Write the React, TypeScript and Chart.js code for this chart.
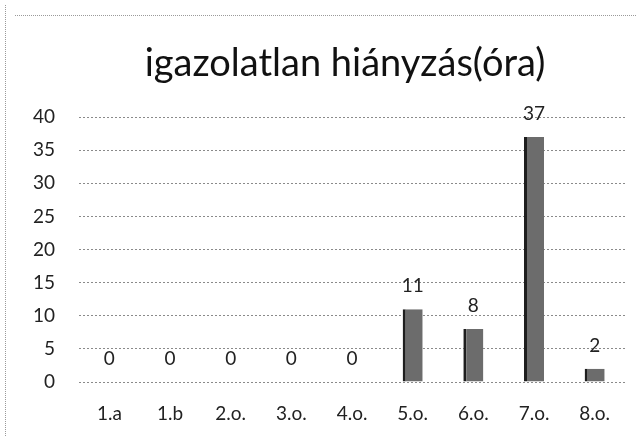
import React, { useEffect, useRef } from "react";
import { Chart, registerables } from "chart.js";

Chart.register(...registerables);

const categories = ["1.a", "1.b", "2.o.", "3.o.", "4.o.", "5.o.", "6.o.", "7.o.", "8.o."];
const values = [0, 0, 0, 0, 0, 11, 8, 37, 2];
const titleText = "igazolatlan hiányzás(óra)";
const FONT = "Lato, 'Open Sans', sans-serif";

const labelPlugin = {
  id: "valueLabels",
  afterDatasetsDraw(chart: any) {
    const ctx = chart.ctx;
    const meta = chart.getDatasetMeta(0);
    ctx.save();
    ctx.font = `19px ${FONT}`;
    ctx.fillStyle = "#222";
    ctx.textAlign = "center";
    ctx.textBaseline = "alphabetic";
    meta.data.forEach((el: any, i: number) => {
      ctx.fillText(String(values[i]), el.x, el.y - 17);
    });
    ctx.restore();
  },
};

const titlePlugin = {
  id: "customTitle",
  afterDraw(chart: any) {
    const ctx = chart.ctx;
    ctx.save();
    ctx.font = `38px ${FONT}`;
    ctx.fillStyle = "#111";
    ctx.textAlign = "center";
    ctx.textBaseline = "middle";
    ctx.fillText(titleText, 345, 64);
    ctx.restore();
  },
};

const borderPlugin = {
  id: "scanBorder",
  beforeDraw(chart: any) {
    const ctx = chart.ctx;
    ctx.save();
    ctx.fillStyle = "#fff";
    ctx.fillRect(0, 0, chart.width, chart.height);
    ctx.strokeStyle = "#9a9a9a";
    ctx.lineWidth = 1;
    ctx.setLineDash([1, 1]);
    ctx.beginPath();
    ctx.moveTo(15, 15.5);
    ctx.lineTo(chart.width - 2, 15.5);
    ctx.moveTo(5.5, 5);
    ctx.lineTo(5.5, chart.height);
    ctx.stroke();
    ctx.restore();
  },
};

export default function App() {
  const ref = useRef<HTMLCanvasElement | null>(null);
  useEffect(() => {
    if (!ref.current) return;
    const chart = new Chart(ref.current, {
      type: "bar",
      data: {
        labels: categories,
        datasets: [
          {
            data: values,
            backgroundColor: "#6c6c6c",
            borderColor: "#1e1e1e",
            borderWidth: { left: 3, right: 0, top: 0, bottom: 0 },
            barPercentage: 0.66,
            categoryPercentage: 0.5,
          },
        ],
      },
      options: {
        animation: false,
        responsive: false,
        maintainAspectRatio: false,
        layout: { padding: { top: 117, right: 13, left: 9, bottom: 0 } },
        plugins: {
          legend: { display: false },
          tooltip: { enabled: false },
          title: { display: false },
        },
        scales: {
          x: {
            grid: { display: false, drawTicks: false },
            border: { display: false },
            ticks: { color: "#222", font: { family: FONT, size: 19 }, padding: 20 },
            afterFit(scale: any) {
              scale.height = 55;
            },
          },
          y: {
            min: 0,
            max: 40,
            grid: { color: "#8a8a8a", drawTicks: false, lineWidth: 1 },
            border: { display: false, dash: [2, 2] },
            ticks: { stepSize: 5, color: "#222", font: { family: FONT, size: 19 }, padding: 24 },
          },
        },
      },
      plugins: [borderPlugin, labelPlugin, titlePlugin],
    });
    return () => chart.destroy();
  }, []);
  return (
    <div style={{ position: "fixed", left: 0, top: 0, width: 638, height: 437 }}>
      <canvas ref={ref} width={638} height={437} style={{ width: 638, height: 437 }} />
    </div>
  );
}
